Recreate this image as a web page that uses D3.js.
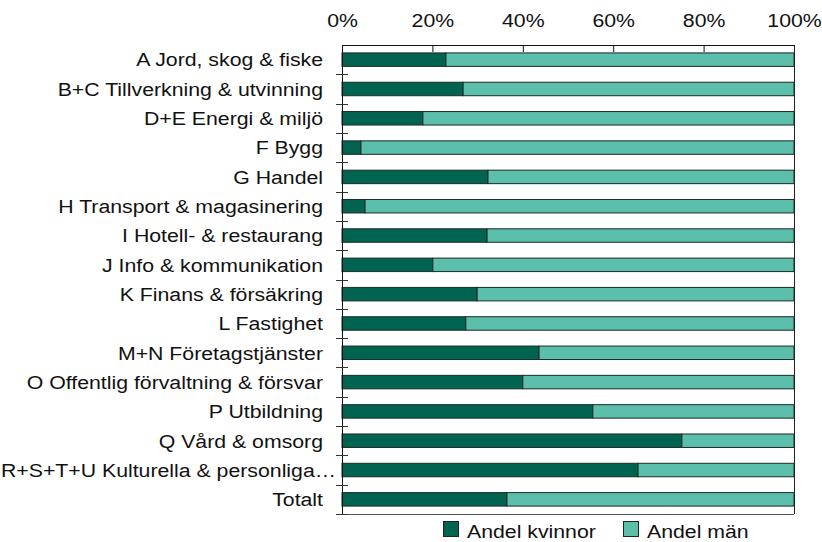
<!DOCTYPE html>
<html><head><meta charset="utf-8">
<script src="https://cdn.jsdelivr.net/npm/d3@7"></script>
<style>body{margin:0;background:#fff}svg{display:block;font-family:"Liberation Sans",Arial,sans-serif}</style>
</head><body><svg id="c" width="822" height="542"></svg>
<script>
const categories = ["A Jord, skog & fiske","B+C Tillverkning & utvinning","D+E Energi & miljö","F Bygg","G Handel","H Transport & magasinering","I Hotell- & restaurang","J Info & kommunikation","K Finans & försäkring","L Fastighet","M+N Företagstjänster","O Offentlig förvaltning & försvar","P Utbildning","Q Vård & omsorg","R+S+T+U Kulturella & personliga…","Totalt"];
const kvinnor = [0.23,0.268,0.179,0.042,0.323,0.051,0.321,0.201,0.299,0.274,0.436,0.400,0.555,0.752,0.655,0.365];
const man = kvinnor.map(v => 1 - v);
const seriesNames = ["Andel kvinnor","Andel män"];
const colors = ["#006450","#5bbfac"];
const tickValues = [0,0.2,0.4,0.6,0.8,1];

const svg = d3.select("#c");
const L = 342, R = 794, T = 45, B = 514;
const FS = 19, SX = 1.12;
const x = d3.scaleLinear().domain([0,1]).range([L,R]);
const y = d3.scaleBand().domain(categories).range([T,B]).paddingInner(0.54).paddingOuter(0.27);
const yb = d3.scaleBand().domain(categories).range([T,B]);

// frame lines (right & bottom)
svg.append("line").attr("x1",R+0.5).attr("x2",R+0.5).attr("y1",T).attr("y2",B).attr("stroke","#222");
svg.append("line").attr("x1",L).attr("x2",R).attr("y1",B+0.5).attr("y2",B+0.5).attr("stroke","#555");

const data = categories.map((c,i)=>({c, k:kvinnor[i], m:man[i]}));
const g = svg.append("g");
data.forEach(d=>{
  g.append("rect").attr("x",x(0)).attr("y",y(d.c)).attr("width",x(d.k)-x(0)).attr("height",y.bandwidth())
    .attr("fill",colors[0]).attr("stroke","#1c2a26").attr("stroke-width",1);
  g.append("rect").attr("x",x(d.k)).attr("y",y(d.c)).attr("width",x(1)-x(d.k)).attr("height",y.bandwidth())
    .attr("fill",colors[1]).attr("stroke","#1c2a26").attr("stroke-width",1);
});

// top axis
const xa = svg.append("g").attr("transform",`translate(0,${T})`)
  .call(d3.axisTop(x).tickValues(tickValues).tickFormat(d3.format(".0%")).tickSizeInner(-7).tickSizeOuter(0).tickPadding(18));
xa.attr("font-size",null).attr("font-family",null);
xa.select(".domain").attr("stroke","#111");
xa.selectAll(".tick line").attr("stroke","#111");
xa.selectAll(".tick text").attr("font-size",FS).attr("fill","#111").attr("dy","0").attr("transform",`scale(${SX},1)`);
xa.selectAll(".tick").filter(d=>d===0||d===1).select("line").remove();

// left axis
const ya = svg.append("g").attr("transform",`translate(${L},0)`)
  .call(d3.axisLeft(y).tickSize(0).tickPadding(19));
ya.attr("font-size",null).attr("font-family",null);
ya.select(".domain").attr("stroke","#111").attr("d",`M0.5,${T}V${B}`);
ya.selectAll(".tick text").attr("font-size",FS).attr("fill","#111").attr("dy","0.36em")
  .attr("x", d => (d.endsWith("…") ? -6 : -19) / SX)
  .attr("transform",`scale(${SX},1)`);
// row boundary ticks
const bounds = d3.range(1,categories.length+1).map(i=> T + i*yb.step());
svg.append("g").selectAll("line").data(bounds).join("line")
  .attr("x1",L-6).attr("x2",L+6).attr("y1",d=>Math.round(d)+0.5).attr("y2",d=>Math.round(d)+0.5).attr("stroke","#333");

// legend
const leg = svg.append("g");
const lx = [443,623];
seriesNames.forEach((n,i)=>{
  leg.append("rect").attr("x",lx[i]+0.5).attr("y",521.5).attr("width",15).attr("height",15).attr("fill",colors[i]).attr("stroke","#222");
  leg.append("g").attr("transform",`translate(${lx[i]+24},538) scale(${SX},1)`)
    .append("text").attr("x",0).attr("y",0).attr("font-size",FS).attr("fill","#111").text(n);
});
</script></body></html>
